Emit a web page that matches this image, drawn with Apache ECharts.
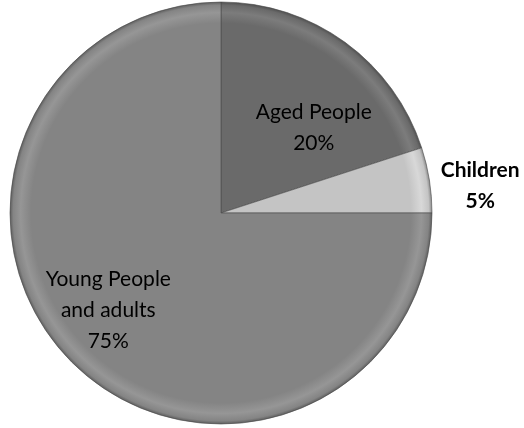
<!DOCTYPE html>
<html>
<head>
<meta charset="utf-8">
<script src="https://cdn.jsdelivr.net/npm/echarts@6/dist/echarts.min.js"></script>
<style>
  html, body { margin: 0; padding: 0; background: #fff; }
  #chart { width: 524px; height: 428px; }
</style>
</head>
<body>
<div id="chart"></div>
<script>
// Population shares by age group
const groups = ['Aged People', 'Children', 'Young People\nand adults'];
const shares = [20, 5, 75];

const cx = 221, cy = 213, R = 211;

// Rim shading: flat fill with a rounded, lit edge near the outer radius
function rimShade(c, light, dark) {
  return {
    type: 'radial', x: cx, y: cy, r: R, global: true,
    colorStops: [
      { offset: 0, color: c },
      { offset: 0.9, color: c },
      { offset: 0.95, color: light },
      { offset: 0.985, color: c },
      { offset: 1, color: dark }
    ]
  };
}
const shades = [
  rimShade('#6a6a6a', '#7c7c7c', '#505050'),
  rimShade('#c4c4c4', '#d8d8d8', '#8a8a8a'),
  rimShade('#848484', '#969696', '#5e5e5e')
];

// Label nudges away from ECharts' default inside spots
const labelShift = [[29, 3], [152, -10], [-36, 21]];

const chart = echarts.init(document.getElementById('chart'));
chart.setOption({
  animation: false,
  series: [{
    type: 'pie',
    center: [cx, cy],
    radius: [0, R],
    startAngle: 90,
    clockwise: true,
    avoidLabelOverlap: false,
    itemStyle: { borderColor: '#4a4a4a', borderWidth: 0.6 },
    label: {
      position: 'inside',
      formatter: p => p.name + '\n' + p.value + '%',
      fontFamily: 'Lato',
      fontSize: 21,
      lineHeight: 31,
      color: '#000',
      align: 'center'
    },
    labelLine: { show: false },
    labelLayout: p => ({ dx: labelShift[p.dataIndex][0], dy: labelShift[p.dataIndex][1] }),
    data: groups.map((g, i) => {
      const d = { name: g, value: shares[i], itemStyle: { color: shades[i] } };
      if (i === 1) d.label = { fontWeight: 'bold' };
      return d;
    })
  }]
});
</script>
</body>
</html>
